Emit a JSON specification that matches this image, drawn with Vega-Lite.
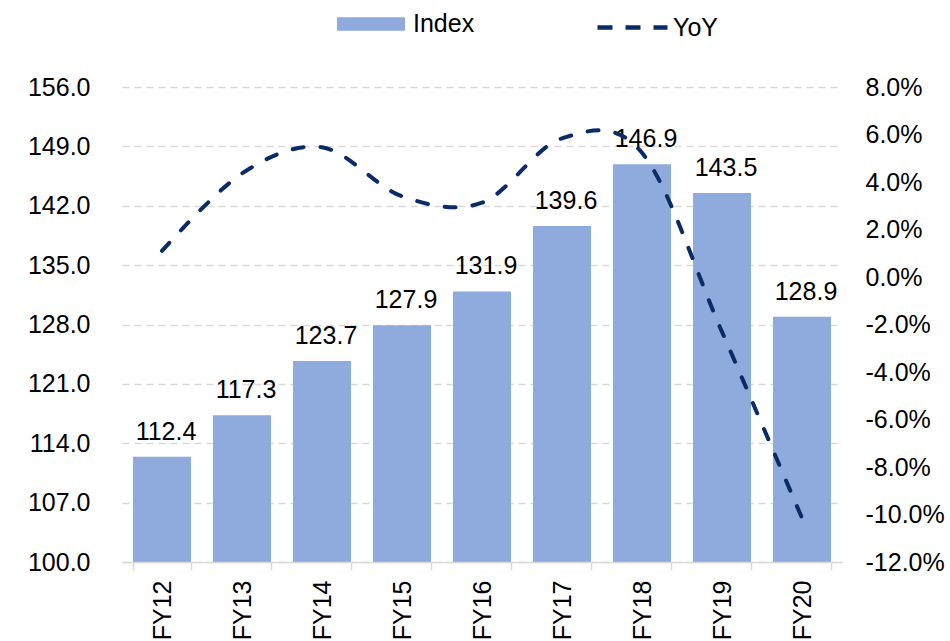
{
  "$schema": "https://vega.github.io/schema/vega-lite/v6.json",
  "width": 720,
  "height": 475,
  "autosize": {"type": "none"},
  "padding": {"left": 122, "top": 87, "right": 108, "bottom": 79},
  "background": "white",
  "config": {
    "font": "Liberation Sans",
    "view": {"stroke": null},
    "axis": {"labelFont": "Liberation Sans", "labelFontSize": 25, "labelColor": "#000000"},
    "legend": {"labelFont": "Liberation Sans", "labelFontSize": 25, "labelColor": "#000000"}
  },
  "data": {
    "values": [
      {"year": "FY12", "index": 112.4, "yoy": 0.011},
      {"year": "FY13", "index": 117.3, "yoy": 0.0436},
      {"year": "FY14", "index": 123.7, "yoy": 0.0546},
      {"year": "FY15", "index": 127.9, "yoy": 0.034},
      {"year": "FY16", "index": 131.9, "yoy": 0.0313},
      {"year": "FY17", "index": 139.6, "yoy": 0.0584},
      {"year": "FY18", "index": 146.9, "yoy": 0.0523},
      {"year": "FY19", "index": 143.5, "yoy": -0.0231},
      {"year": "FY20", "index": 128.9, "yoy": -0.1015}
    ]
  },
  "encoding": {
    "x": {
      "field": "year",
      "type": "nominal",
      "sort": null,
      "scale": {"paddingInner": 0.275, "paddingOuter": 0.1375},
      "axis": {
        "title": null,
        "labelAngle": -90,
        "labelAlign": "right",
        "labelBaseline": "middle",
        "labelPadding": 10,
        "tickSize": 8,
        "tickColor": "#d9d9d9",
        "tickWidth": 1.5,
        "domainColor": "#d9d9d9",
        "domainWidth": 1.5,
        "tickBand": "extent",
        "grid": false,
        "zindex": 1
      }
    }
  },
  "layer": [
    {
      "encoding": {
        "y": {
          "field": "index",
          "type": "quantitative",
          "scale": {"domain": [100, 156], "nice": false, "zero": false},
          "axis": {
            "title": null,
            "values": [100, 107, 114, 121, 128, 135, 142, 149, 156],
            "format": ".1f",
            "domain": false,
            "ticks": false,
            "labelPadding": 32,
            "grid": true,
            "gridColor": "#d9d9d9",
            "gridDash": [7, 5],
            "gridWidth": 1.5
          }
        }
      },
      "layer": [
        {
          "mark": {"type": "bar"},
          "encoding": {
            "y2": {"datum": 100},
            "color": {
              "datum": "Index",
              "scale": {"range": ["#8faadc"]},
              "legend": {
                "orient": "none",
                "legendX": 215,
                "legendY": -97,
                "title": null,
                "padding": 0,
                "symbolType": "M-1,-0.2H1V0.2H-1Z",
                "symbolSize": 4624,
                "symbolStrokeWidth": 0,
                "symbolOpacity": 1,
                "labelOffset": 8
              }
            }
          }
        },
        {
          "mark": {"type": "text", "dy": -17, "dx": 4, "baseline": "alphabetic", "fontSize": 25, "font": "Liberation Sans", "color": "#000000"},
          "encoding": {
            "text": {"field": "index", "type": "quantitative", "format": ".1f"}
          }
        }
      ]
    },
    {
      "mark": {"type": "line", "interpolate": "cardinal", "tension": 0, "strokeDash": [11, 17], "strokeWidth": 4, "strokeCap": "round"},
      "encoding": {
        "y": {
          "field": "yoy",
          "type": "quantitative",
          "scale": {"domain": [-0.12, 0.08], "nice": false, "zero": false},
          "axis": {
            "orient": "right",
            "title": null,
            "values": [-0.12, -0.1, -0.08, -0.06, -0.04, -0.02, 0, 0.02, 0.04, 0.06, 0.08],
            "labelExpr": "replace(format(datum.value, '.1%'), '\u2212', '-')",
            "domain": false,
            "ticks": false,
            "labelPadding": 23,
            "grid": false
          }
        },
        "stroke": {
          "datum": "YoY",
          "scale": {"range": ["#0b2b66"]},
          "legend": {
            "orient": "none",
            "legendX": 473,
            "legendY": -97,
            "title": null,
            "padding": 0,
            "symbolType": "stroke",
            "symbolSize": 4900,
            "symbolStrokeWidth": 4.5,
            "symbolDash": [15, 13],
            "labelOffset": 3
          }
        }
      }
    }
  ],
  "resolve": {"scale": {"y": "independent"}}
}
